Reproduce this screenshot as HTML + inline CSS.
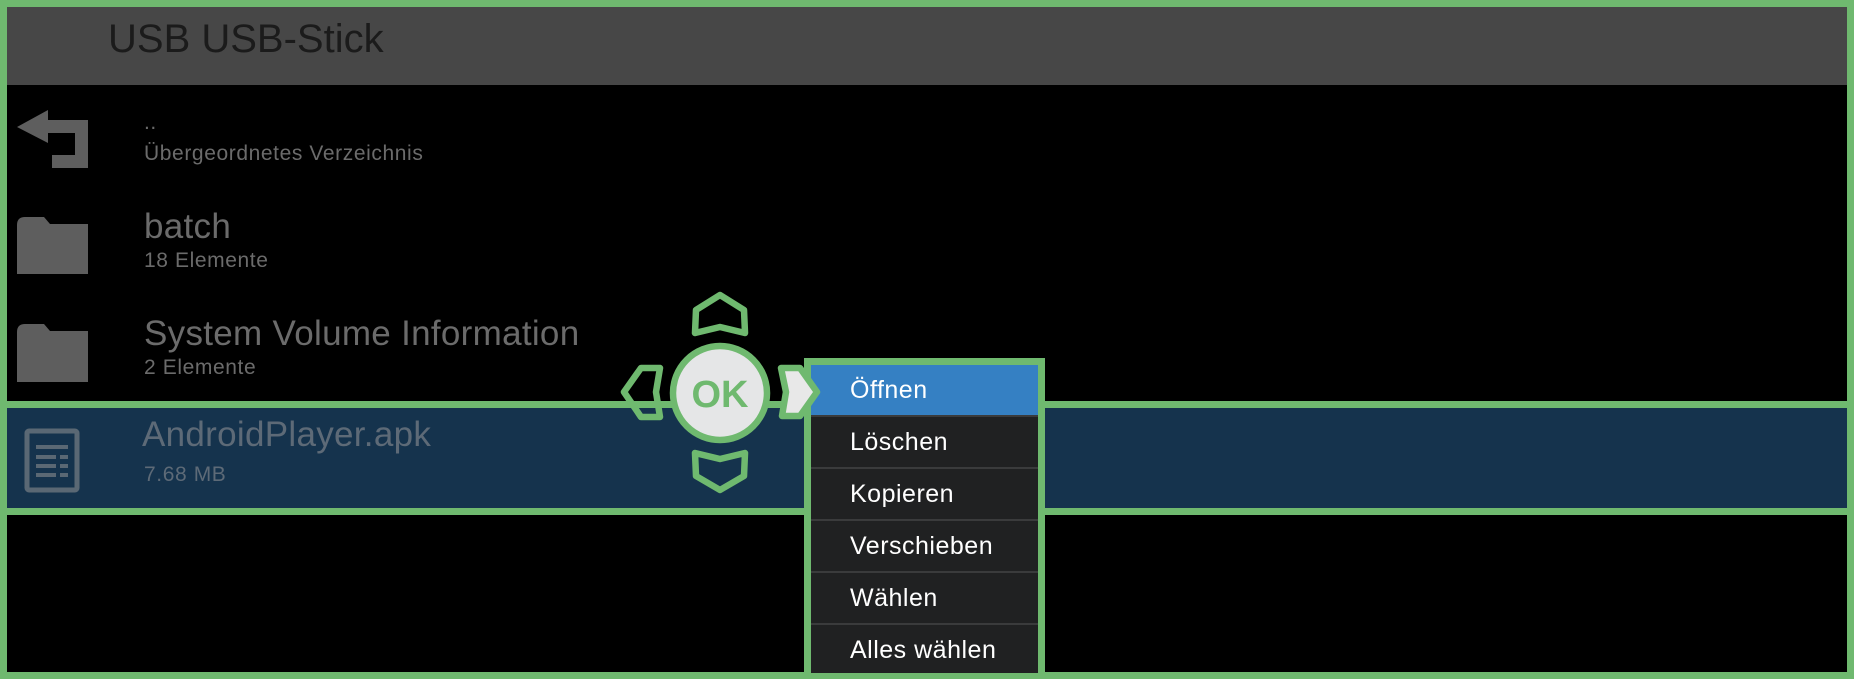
<!DOCTYPE html>
<html><head><meta charset="utf-8"><style>
*{margin:0;padding:0;box-sizing:border-box}
body{width:1854px;height:679px;background:#000;position:relative;overflow:hidden;font-family:"Liberation Sans","DejaVu Sans",sans-serif}
.a{position:absolute;white-space:nowrap}
.g{position:absolute;background:#6fb96f}
.t{color:#6b6b6b;font-size:35px;line-height:1;letter-spacing:0.3px}
.s{color:#6b6b6b;font-size:21px;line-height:1;letter-spacing:0.6px}
.mi{position:absolute;left:811px;width:227px;height:50px;background:#202122;color:#fff;font-size:25px;line-height:50px;padding-left:39px;letter-spacing:0.5px}
</style></head><body>
<div class="a" style="left:0;top:0;width:1854px;height:85px;background:#474747"></div>
<div class="a" style="left:108px;top:19px;font-size:40px;color:#1b1b1b;line-height:1">USB USB-Stick</div>

<svg class="a" style="left:0;top:0" width="1854" height="679">
<path d="M17,127 L48,110 L48,120 L88,120 L88,168 L52,168 L52,155 L75,155 L75,133 L48,133 L48,143 Z" fill="#5e5e5e"/>
<path d="M17,225 Q17,217 25,217 L44,217 L50,224 L88,224 L88,274 L17,274 Z" fill="#5e5e5e"/>
<path d="M17,332 Q17,324 25,324 L44,324 L50,331 L88,331 L88,382 L17,382 Z" fill="#5e5e5e"/>
</svg>
<div class="a s" style="left:144px;top:112px">..</div>
<div class="a s" style="left:144px;top:143px">Übergeordnetes Verzeichnis</div>
<div class="a t" style="left:144px;top:209px">batch</div>
<div class="a s" style="left:144px;top:250px">18 Elemente</div>
<div class="a t" style="left:144px;top:316px">System Volume Information</div>
<div class="a s" style="left:144px;top:357px">2 Elemente</div>

<div class="a" style="left:0;top:408px;width:1854px;height:100px;background:#15334d"></div>
<svg class="a" style="left:0;top:0" width="1854" height="679">
<rect x="27" y="431" width="50" height="59" rx="2" fill="none" stroke="#5a6874" stroke-width="5"/>
<rect x="36" y="445" width="32" height="4" fill="#5a6874"/>
<rect x="36" y="455" width="20" height="4" fill="#5a6874"/><rect x="60" y="455" width="8" height="4" fill="#5a6874"/>
<rect x="36" y="464" width="20" height="4" fill="#5a6874"/><rect x="60" y="464" width="8" height="4" fill="#5a6874"/>
<rect x="36" y="473" width="20" height="4" fill="#5a6874"/><rect x="60" y="473" width="8" height="4" fill="#5a6874"/>
</svg>
<div class="a t" style="left:142px;top:417px;color:#5d6a77">AndroidPlayer.apk</div>
<div class="a s" style="left:144px;top:464px;color:#5d6a77">7.68 MB</div>

<div class="g" style="left:0;top:0;width:1854px;height:7px"></div>
<div class="g" style="left:0;top:672px;width:1854px;height:7px"></div>
<div class="g" style="left:0;top:0;width:7px;height:679px"></div>
<div class="g" style="left:1847px;top:0;width:7px;height:679px"></div>
<div class="g" style="left:0;top:401px;width:1854px;height:7px"></div>
<div class="g" style="left:0;top:508px;width:1854px;height:7px"></div>

<div class="g" style="left:804px;top:358px;width:241px;height:321px"></div>
<div class="a" style="left:811px;top:365px;width:227px;height:308px;background:#3a3b3c"></div>
<div class="mi" style="top:365px;background:#3580c3">Öffnen</div>
<div class="mi" style="top:417px">Löschen</div>
<div class="mi" style="top:469px">Kopieren</div>
<div class="mi" style="top:521px">Verschieben</div>
<div class="mi" style="top:573px">Wählen</div>
<div class="mi" style="top:625px;height:48px">Alles wählen</div>

<svg class="a" style="left:0;top:0" width="1854" height="679">
<g fill="none" stroke="#6fb96f" stroke-width="6.5" stroke-linejoin="round">
<polygon points="696,310 720,295 744,310 745,333 720,327 695,333"/>
<polygon points="695,453 720,459 745,453 744,476 720,490 696,476"/>
<polygon points="660,368 641,368 624,392 641,417 660,417 656,392"/>
<polygon points="781,368 800,368 817,392 800,416 782,416 786,392" fill="#e8e8e8"/>
<circle cx="720" cy="393" r="47" fill="#e5e6e7"/>
</g>
<text x="720" y="407" text-anchor="middle" font-family="Liberation Sans, sans-serif" font-weight="bold" font-size="38" fill="#6fb96f">OK</text>
</svg>
</body></html>
